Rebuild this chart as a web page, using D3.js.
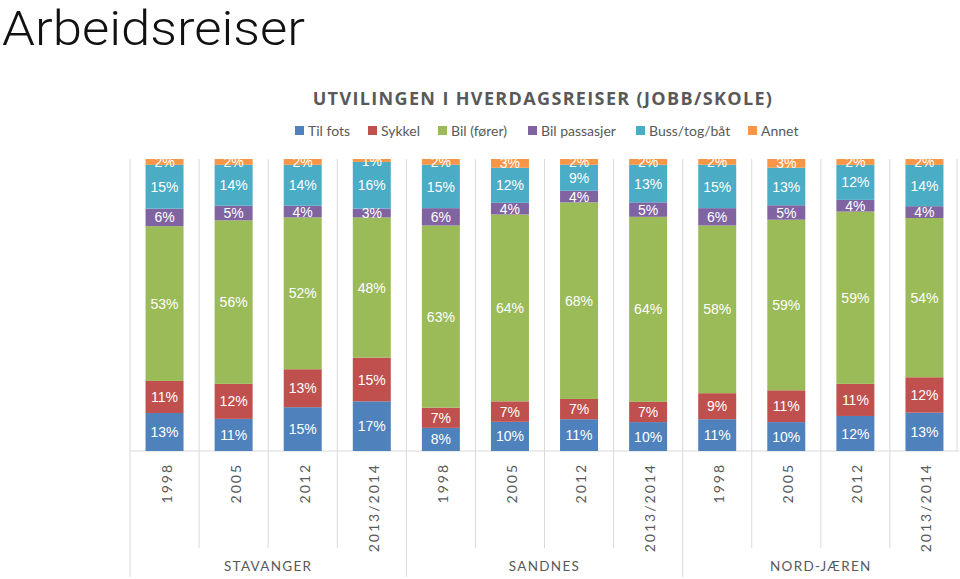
<!DOCTYPE html>
<html>
<head>
<meta charset="utf-8">
<script src="https://cdn.jsdelivr.net/npm/d3@7"></script>
<style>
  html, body { margin: 0; padding: 0; background: #fff; }
  svg { display: block; }
</style>
</head>
<body>
<svg id="chart" width="960" height="579"></svg>
<script>
const groups = ["STAVANGER", "SANDNES", "NORD-JÆREN"];
const years = ["1998", "2005", "2012", "2013/2014"];
const seriesNames = ["Til fots", "Sykkel", "Bil (fører)", "Bil passasjer", "Buss/tog/båt", "Annet"];
const colors = ["#4F81BD", "#C0504D", "#9BBB59", "#8064A2", "#4BACC6", "#F79646"];

// values per bar, order: Stavanger 1998..2013/2014, Sandnes ..., Nord-Jæren ...
const tilFots     = [13, 11, 15, 17,  8, 10, 11, 10, 11, 10, 12, 13];
const sykkel      = [11, 12, 13, 15,  7,  7,  7,  7,  9, 11, 11, 12];
const bilForer    = [53, 56, 52, 48, 63, 64, 68, 64, 58, 59, 59, 54];
const bilPass     = [ 6,  5,  4,  3,  6,  4,  4,  5,  6,  5,  4,  4];
const buss        = [15, 14, 14, 16, 15, 12,  9, 13, 15, 13, 12, 14];
const annet       = [ 2,  2,  2,  1,  2,  3,  2,  2,  2,  3,  2,  2];

const seriesValues = [tilFots, sykkel, bilForer, bilPass, buss, annet];

const data = [];
groups.forEach((g, gi) => years.forEach((y, yi) => {
  const i = gi * years.length + yi;
  const row = { key: g + "|" + y, group: g, year: y };
  seriesNames.forEach((s, si) => row[s] = seriesValues[si][i]);
  data.push(row);
}));

const svg = d3.select("#chart");
const gray = "#595959";
const lineCol = "#D9D9D9";

// Page title
svg.append("text")
  .attr("x", 2).attr("y", 45)
  .attr("font-family", "Roboto, 'Open Sans', sans-serif")
  .attr("font-weight", 300)
  .attr("font-size", 48)
  .attr("textLength", 303)
  .attr("lengthAdjust", "spacingAndGlyphs")
  .attr("fill", "#111")
  .text("Arbeidsreiser");

// Chart title
svg.append("text")
  .attr("x", 543).attr("y", 105)
  .attr("text-anchor", "middle")
  .attr("font-family", "'Open Sans', sans-serif")
  .attr("font-weight", 700)
  .attr("font-size", 18)
  .attr("letter-spacing", 1.35)
  .attr("fill", gray)
  .text("UTVILINGEN I HVERDAGSREISER (JOBB/SKOLE)");

// Legend
const legendX = [295, 368, 438, 528, 636, 748];
const legend = svg.append("g");
seriesNames.forEach((s, i) => {
  const g = legend.append("g").attr("transform", `translate(${legendX[i]},131)`);
  g.append("rect").attr("x", 0).attr("y", -5).attr("width", 9).attr("height", 9).attr("fill", colors[i]);
  g.append("text").attr("x", 13).attr("y", 5)
    .attr("font-family", "Lato, 'Open Sans', sans-serif")
    .attr("font-size", 14).attr("fill", gray).text(s);
});

// Scales
const x = d3.scaleBand().domain(data.map(d => d.key)).range([130, 959]).paddingInner(0.45).paddingOuter(0.225);
const y = d3.scaleLinear().domain([0, 1]).range([451, 159]);
const step = x.step();
const slotLeft = i => 130 + i * step;

svg.append("defs").append("clipPath").attr("id", "plotClip")
  .append("rect").attr("x", 0).attr("y", 159).attr("width", 960).attr("height", 300);

// grid/separator lines
const lines = svg.append("g");
for (let i = 0; i < data.length; i++) {
  const xx = slotLeft(i);
  const isGroup = i % years.length === 0;
  lines.append("line")
    .attr("x1", xx).attr("x2", xx)
    .attr("y1", 159).attr("y2", isGroup ? 577 : 548)
    .attr("stroke", lineCol).attr("stroke-width", 1);
}
lines.append("line").attr("x1", 957).attr("x2", 957).attr("y1", 159).attr("y2", 451)
  .attr("stroke", lineCol);
lines.append("line").attr("x1", 130).attr("x2", 959).attr("y1", 451).attr("y2", 451)
  .attr("stroke", lineCol);

// Stack
const stack = d3.stack().keys(seriesNames).offset(d3.stackOffsetExpand);
const stacked = stack(data);

const layers = svg.append("g").selectAll("g").data(stacked).join("g")
  .attr("fill", (d, i) => colors[i]);
layers.selectAll("rect").data(d => d).join("rect")
  .attr("x", d => x(d.data.key))
  .attr("width", x.bandwidth())
  .attr("y", d => y(d[1]))
  .attr("height", d => y(d[0]) - y(d[1]));

// Labels
const lbl = svg.append("g")
  .attr("clip-path", "url(#plotClip)")
  .attr("font-family", "'Liberation Sans', Arial, sans-serif")
  .attr("font-size", 14)
  .attr("fill", "#fff")
  .attr("text-anchor", "middle");
stacked.forEach((layer) => {
  layer.forEach(d => {
    lbl.append("text")
      .attr("x", x(d.data.key) + x.bandwidth() / 2)
      .attr("y", (y(d[0]) + y(d[1])) / 2)
      .attr("dy", "0.36em")
      .text(d.data[layer.key] + "%");
  });
});

// Year labels (rotated)
const yearG = svg.append("g");
data.forEach(d => {
  const cx = x(d.key) + x.bandwidth() / 2;
  yearG.append("text")
    .attr("transform", `translate(${cx + 7},463) rotate(-90)`)
    .attr("text-anchor", "end")
    .attr("font-family", "Lato, 'Open Sans', sans-serif")
    .attr("font-size", 14)
    .attr("letter-spacing", 2)
    .attr("fill", gray)
    .text(d.year);
});

// Group labels
groups.forEach((g, gi) => {
  const cx = slotLeft(gi * years.length) + step * years.length / 2;
  svg.append("text")
    .attr("x", cx).attr("y", 571)
    .attr("text-anchor", "middle")
    .attr("font-family", "Lato, 'Open Sans', sans-serif")
    .attr("font-size", 13.5)
    .attr("letter-spacing", 1.3)
    .attr("fill", gray)
    .text(g);
});
</script>
</body>
</html>
